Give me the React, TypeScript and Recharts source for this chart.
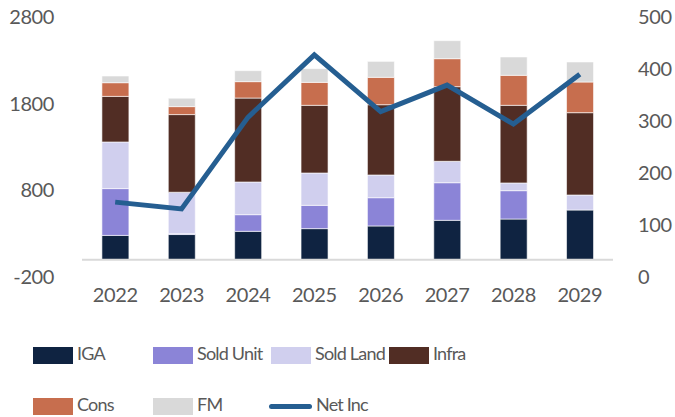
import React from 'react';
import {
  ComposedChart, Bar, Line, XAxis, YAxis, ReferenceLine
} from 'recharts';

// categories and series
const years = ['2022', '2023', '2024', '2025', '2026', '2027', '2028', '2029'];
const iga = [280, 290, 327, 358, 389, 454, 469, 573];
const soldUnit = [540, 10, 192, 269, 326, 434, 327, 0];
const soldLand = [538, 478, 377, 373, 262, 247, 89, 173];
const infra = [526, 896, 969, 781, 811, 861, 896, 950];
const cons = [158, 92, 189, 265, 316, 323, 346, 354];
const fm = [77, 97, 127, 158, 184, 208, 212, 231];
const netInc = [144, 131, 307, 427, 318, 369, 294, 390];

const leftTicks = [-200, 800, 1800, 2800];
const rightTicks = [0, 100, 200, 300, 400, 500];

const data = years.map((year, i) => ({
  year,
  IGA: iga[i],
  'Sold Unit': soldUnit[i],
  'Sold Land': soldLand[i],
  Infra: infra[i],
  Cons: cons[i],
  FM: fm[i],
  'Net Inc': netInc[i],
}));

// bar series, bottom to top
const SERIES = [
  { key: 'IGA', color: '#0f2341' },
  { key: 'Sold Unit', color: '#8b84d7' },
  { key: 'Sold Land', color: '#d0cfee' },
  { key: 'Infra', color: '#512d24' },
  { key: 'Cons', color: '#c76e4e' },
  { key: 'FM', color: '#d9d9d9' },
];
const LINE_COLOR = '#255e91';
const TEXT = '#595959';
const FONT = 'Lato, "Open Sans", sans-serif';

// legend layout: two rows, four columns
const legendItems = [
  { key: 'IGA', color: SERIES[0].color, x: 33, y: 347, line: false },
  { key: 'Sold Unit', color: SERIES[1].color, x: 153, y: 347, line: false },
  { key: 'Sold Land', color: SERIES[2].color, x: 271, y: 347, line: false },
  { key: 'Infra', color: SERIES[3].color, x: 389, y: 347, line: false },
  { key: 'Cons', color: SERIES[4].color, x: 33, y: 398, line: false },
  { key: 'FM', color: SERIES[5].color, x: 153, y: 398, line: false },
  { key: 'Net Inc', color: LINE_COLOR, x: 269, y: 398, line: true },
];

const App = () => {
  return (
    <div style={{ position: 'relative', width: 675, height: 417, fontFamily: FONT, background: '#fff' }}>
      <style>{'body{margin:0}'}</style>
      <ComposedChart
        width={675}
        height={320}
        data={data}
        margin={{ top: 17, right: 0, bottom: 0, left: 0 }}
        barCategoryGap="30%"
      >
        <XAxis
          dataKey="year"
          axisLine={false}
          tickLine={false}
          tickMargin={5}
          height={43}
          tick={{ fontSize: 20, fill: TEXT, fontFamily: FONT, letterSpacing: -0.4 }}
        />
        <YAxis
          yAxisId="left"
          domain={[-200, 2800]}
          ticks={leftTicks}
          axisLine={false}
          tickLine={false}
          tickMargin={22}
          width={82}
          tick={{ fontSize: 20, fill: TEXT, fontFamily: FONT, letterSpacing: -0.4 }}
        />
        <YAxis
          yAxisId="right"
          orientation="right"
          domain={[0, 500]}
          ticks={rightTicks}
          axisLine={false}
          tickLine={false}
          tickMargin={19}
          width={62}
          tick={{ fontSize: 20, fill: TEXT, fontFamily: FONT, textAnchor: 'start', letterSpacing: -0.4 }}
        />
        <ReferenceLine yAxisId="left" y={0} stroke="#d9d9d9" strokeWidth={2} />
        {SERIES.map((s) => (
          <Bar
            key={s.key}
            yAxisId="left"
            dataKey={s.key}
            stackId="a"
            fill={s.color}
            stroke="#ffffff"
            strokeWidth={0.6}
            isAnimationActive={false}
          />
        ))}
        <Line
          yAxisId="right"
          dataKey="Net Inc"
          stroke={LINE_COLOR}
          strokeWidth={5}
          dot={false}
          activeDot={false}
          strokeLinejoin="miter"
          isAnimationActive={false}
        />
      </ComposedChart>

      {/* legend */}
      {legendItems.map((item) => (
        <div
          key={item.key}
          style={{ position: 'absolute', left: item.x, top: item.y, display: 'flex', alignItems: 'center', height: 17, whiteSpace: 'nowrap' }}
        >
          {item.line ? (
            <div style={{ width: 43, height: 5, borderRadius: 3, background: item.color }} />
          ) : (
            <div style={{ width: 40, height: 17, background: item.color }} />
          )}
          <span style={{ marginLeft: 4, fontSize: 18, letterSpacing: -0.8, color: TEXT, lineHeight: '17px', marginTop: -5 }}>{item.key}</span>
        </div>
      ))}
    </div>
  );
};

export default App;
